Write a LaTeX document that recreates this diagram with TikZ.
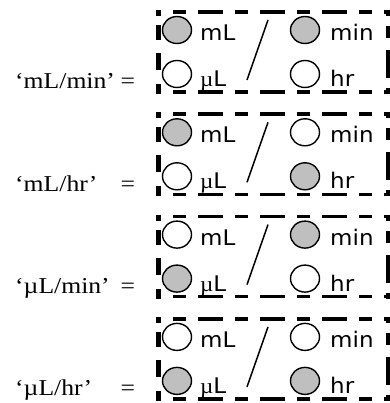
\documentclass[tikz,border=0pt]{standalone}
\usepackage{fontspec}
\setmainfont{Liberation Serif}
\newfontfamily\boxfont{DejaVu Sans}
\usetikzlibrary{shapes.geometric}
\newcommand{\wideit}[1]{\scalebox{1.13}[1]{#1}}
\newcommand{\wideun}[1]{\scalebox{1.07}[1]{#1}}
\tikzset{
  radio/.style={ellipse, draw, line width=1.4pt, minimum width=29pt, minimum height=27pt, inner sep=0pt},
  on/.style={radio, fill=black!25},
  off/.style={radio, fill=white},
  unit/.style={font=\boxfont\fontsize{21.5}{21.5}\selectfont, anchor=base west, inner sep=0pt},
  lbl/.style={font=\fontsize{22.7}{22.7}\selectfont, anchor=base west, inner sep=0pt},
  hedge/.style={line width=3.6pt, dash pattern=on 13pt off 12pt on 25pt off 12pt, dash phase=46pt},
  ledge/.style={line width=5pt, dash pattern=on 6pt off 9pt on 15pt off 13pt on 17pt off 14pt on 10pt},
  redge/.style={line width=3.6pt, dash pattern=on 6pt off 10pt on 12pt off 12pt on 28pt off 10pt on 10pt},
  slash/.style={line width=1.5pt},
}
\begin{document}
\begin{tikzpicture}[x=1pt,y=-1pt]
\useasboundingbox (0,0) rectangle (389,403);
\foreach \r/\lab/\a/\b/\c/\d in {0/{‘mL/min’}/on/on/off/off, 1/{‘mL/hr’}/on/off/off/on, 2/{‘µL/min’}/off/on/on/off, 3/{‘µL/hr’}/off/off/on/on}{
  \pgfmathsetmacro{\oy}{\r*102.3}
  \begin{scope}[shift={(0,\oy)}]
    % dashed frame
    \coordinate (tl\r) at (157,12);
    \coordinate (tr\r) at (389,12);
    \coordinate (bl\r) at (157,92);
    \coordinate (br\r) at (389,92);
    \coordinate (lt\r) at (158.5,10);
    \coordinate (lb\r) at (158.5,94);
    \coordinate (rt\r) at (388.2,10);
    \coordinate (rb\r) at (388.2,94);
    \draw[hedge] (tl\r) -- (tr\r);
    \draw[hedge] (bl\r) -- (br\r);
    \draw[ledge] (lt\r) -- (lb\r);
    \draw[redge] (rt\r) -- (rb\r);
    % radio buttons
    \node[\a] (mLc\r) at (177,30) {};
    \node[\b] (minc\r) at (305,30) {};
    \node[\c] (uLc\r) at (177,74) {};
    \node[\d] (hrc\r) at (305,74) {};
    % unit texts
    \node[unit] (mLt\r) at (200,40.5) {\wideun{mL}};
    \node[unit] (uLt\r) at (200,86.5) {\wideun{{\rmfamily µ}L}};
    \node[unit] (mint\r) at (330,40.5) {\wideun{min}};
    \node[unit] (hrt\r) at (330,86.5) {\wideun{hr}};
    % slash
    \coordinate (sa\r) at (268,20);
    \coordinate (sb\r) at (247,80);
    \draw[slash] (sa\r) -- (sb\r);
    % label
    \node[lbl] (lab\r) at (15,89) {\wideit{\lab}};
    \node[lbl] (eq\r) at (120.5,89) {\wideit{=}};
  \end{scope}
}
\end{tikzpicture}
\end{document}
